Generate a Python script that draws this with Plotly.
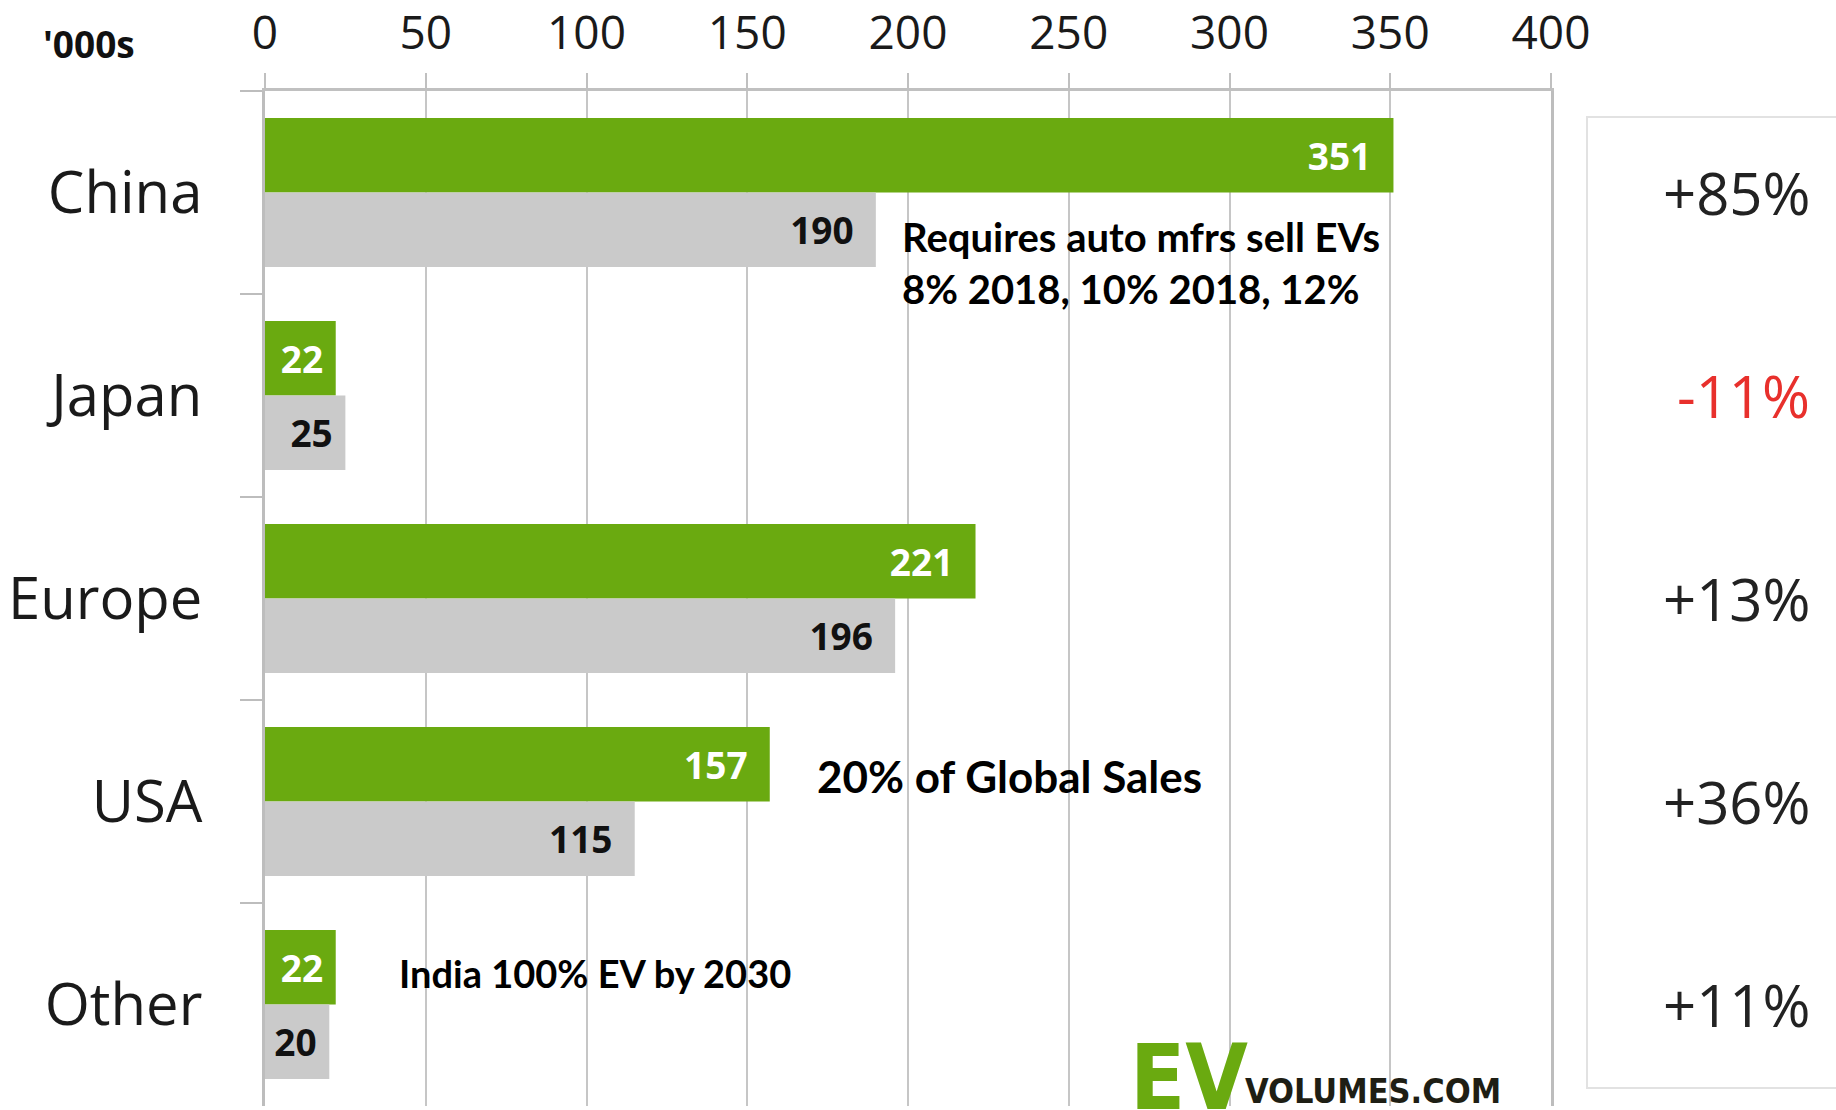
import plotly.graph_objects as go

# ---- data ----
regions = ["China", "Japan", "Europe", "USA", "Other"]
sales_2017 = [351, 22, 221, 157, 22]   # green bars
sales_2016 = [190, 25, 196, 115, 20]   # grey bars
growth_labels = ["+85%", "-11%", "+13%", "+36%", "+11%"]
x_ticks = [0, 50, 100, 150, 200, 250, 300, 350, 400]

GREEN = "#6aaa10"
GREY = "#cacaca"
GRID = "#c6c6c6"
BASE_FONT = "Open Sans, Noto Sans, sans-serif"
NOTE_FONT = "Lato, Open Sans, sans-serif"
NARROW_FONT = "Liberation Sans Narrow, DejaVu Sans Condensed, Arial Narrow, sans-serif"


def label(v):
    return f"{v}" + ("\u00a0" if v < 30 else "\u00a0\u00a0")


fig = go.Figure()
fig.add_trace(go.Bar(
    y=regions, x=sales_2017, orientation="h", name="2017",
    marker=dict(color=GREEN, line=dict(width=0)),
    text=[label(v) for v in sales_2017], textposition="inside",
    insidetextanchor="end", textangle=0, constraintext="none",
    textfont=dict(family=BASE_FONT, size=37, color="white", weight="bold"),
    hoverinfo="skip",
))
fig.add_trace(go.Bar(
    y=regions, x=sales_2016, orientation="h", name="2016",
    marker=dict(color=GREY, line=dict(width=0)),
    text=[label(v) for v in sales_2016], textposition="inside",
    insidetextanchor="end", textangle=0, constraintext="none",
    textfont=dict(family=BASE_FONT, size=37, color="#111111", weight="bold"),
    hoverinfo="skip",
))

shapes = []
# white boxes behind the notes (hide gridlines)
for x0, x1, y0, y1 in [(0.4782, 0.8771, 0.7724, 0.8936),
                       (0.4238, 0.7348, 0.2867, 0.3635),
                       (0.0972, 0.4160, 0.1025, 0.1576),
                       (0.6742, 0.9666, -0.02, 0.069)]:
    shapes.append(dict(type="rect", xref="paper", yref="paper", x0=x0, x1=x1,
                       y0=y0, y1=y1, fillcolor="white", line=dict(width=0),
                       layer="between"))
# right-hand growth panel
shapes.append(dict(type="rect", xref="paper", yref="paper", x0=1.028, x1=1.24,
                   y0=0.0177, y1=0.9744, fillcolor="rgba(0,0,0,0)",
                   line=dict(color="#e2e2e2", width=2), layer="above"))

annotations = []
for reg, g in zip(regions, growth_labels):
    annotations.append(dict(
        xref="paper", yref="y", x=1.2033, y=reg, xanchor="right", yanchor="middle",
        text=g, showarrow=False,
        font=dict(family=BASE_FONT, size=58,
                  color="#e8302c" if g.startswith("-") else "#222222"),
    ))

annotations += [
    dict(xref="paper", yref="paper", x=-0.137, y=1.047, xanchor="center",
         yanchor="middle", text="'000s", showarrow=False,
         font=dict(family=BASE_FONT, size=37, color="#111111", weight="bold")),
    dict(xref="x", yref="paper", x=197.5, y=0.8305, xanchor="left",
         yanchor="middle", align="left", showarrow=False,
         text="Requires auto mfrs sell EVs<br>8% 2018, 10% 2018, 12%",
         font=dict(family=NOTE_FONT, size=40, color="black", weight="bold")),
    dict(xref="x", yref="paper", x=171, y=0.3251, xanchor="left",
         yanchor="middle", showarrow=False, text="20% of Global Sales",
         font=dict(family=NOTE_FONT, size=44, color="black", weight="bold")),
    dict(xref="x", yref="paper", x=41, y=0.131, xanchor="left",
         yanchor="middle", showarrow=False, text="India 100% EV by 2030",
         font=dict(family=NOTE_FONT, size=38, color="black", weight="bold")),
    dict(xref="paper", yref="paper", x=0.6711, y=0.082, xanchor="left",
         yanchor="top", showarrow=False, text="EV",
         font=dict(family=NARROW_FONT, size=90, color=GREEN, weight="bold")),
    dict(xref="paper", yref="paper", x=0.7602, y=0.0145, xanchor="left",
         yanchor="middle", showarrow=False, text="VOLUMES.COM",
         font=dict(family=NARROW_FONT, size=34, color="#1e1e14", weight="bold")),
]

fig.update_layout(
    width=1836, height=1110, autosize=False,
    margin=dict(l=265, r=285, t=91, b=4, pad=0, autoexpand=False),
    paper_bgcolor="white", plot_bgcolor="white",
    barmode="group", bargap=0.266, bargroupgap=0,
    showlegend=False,
    shapes=shapes, annotations=annotations,
    xaxis=dict(
        side="top", range=[0, 400], tickvals=x_ticks,
        ticktext=[str(v) for v in x_ticks], automargin=False,
        showgrid=True, gridcolor=GRID, gridwidth=2,
        showline=True, linecolor="#c0c0c0", linewidth=3,
        ticks="outside", ticklen=15, tickcolor="#c0c0c0", tickwidth=2,
        ticklabelstandoff=6,
        tickfont=dict(family=BASE_FONT, size=46, color="#1a1a1a"),
        zeroline=False, fixedrange=True,
    ),
    yaxis=dict(
        categoryorder="array", categoryarray=regions, autorange="reversed",
        automargin=False,
        showline=True, linecolor="#bdbdbd", linewidth=3, mirror=True,
        ticks="outside", tickson="boundaries", ticklen=22,
        tickcolor="#bdbdbd", tickwidth=2,
        ticklabelstandoff=48,
        tickfont=dict(family=BASE_FONT, size=58, color="#1a1a1a"),
        showgrid=False, zeroline=False, fixedrange=True,
    ),
)

fig.write_html(
    "out.html",
    config={"displayModeBar": False, "staticPlot": False},
    post_script="document.body.style.margin='0';document.body.style.overflow='hidden';",
)
